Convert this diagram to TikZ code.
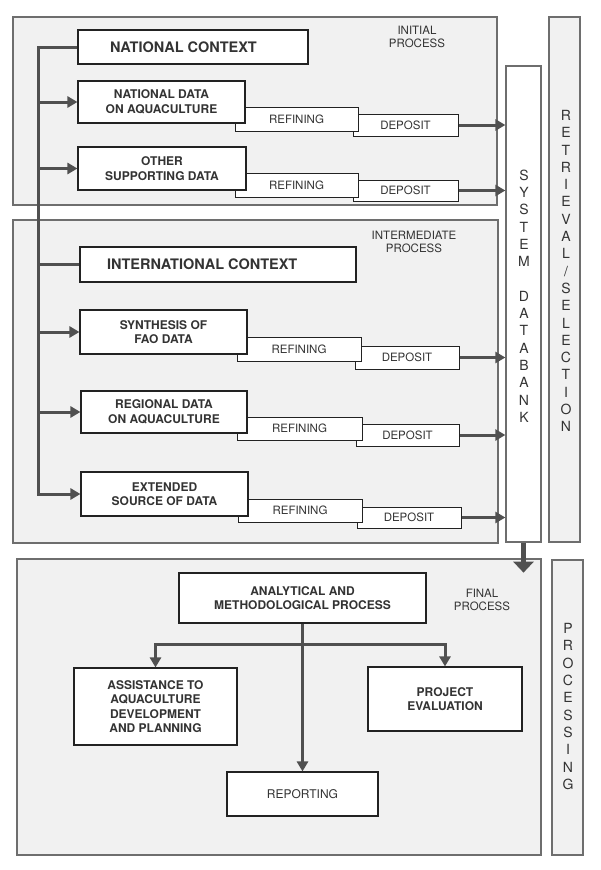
\documentclass[tikz,border=0pt]{standalone}
\usepackage{fontspec}
\setmainfont{TeX Gyre Heros}
\usetikzlibrary{arrows.meta,calc}
\definecolor{panelfill}{HTML}{F1F1F1}
\definecolor{panelline}{HTML}{6E6E6E}
\definecolor{boxline}{HTML}{222222}
\definecolor{conncol}{HTML}{505050}
\definecolor{txt}{HTML}{333333}
\begin{document}
\begin{tikzpicture}[x=1pt,y=-1pt,
  wh/.style 2 args={minimum width=#1pt, minimum height=#2pt},
  panel/.style={draw=panelline, fill=panelfill, line width=1.3pt, inner sep=0pt},
  box/.style={draw=boxline, fill=white, line width=1.1pt, inner sep=0pt, text=txt,
    font=\fontsize{12}{14.5}\selectfont\bfseries, align=center},
  ctx/.style={box, font=\fontsize{14.5}{16}\selectfont\bfseries},
  sub/.style={draw=boxline, fill=white, line width=1pt, inner sep=0pt, text=txt,
    font=\fontsize{11.5}{13}\selectfont},
  col/.style={draw=panelline, line width=1.3pt, inner sep=0pt},
  conn/.style={draw=conncol, line width=3pt},
  arr/.style={conn, -{Triangle[length=10pt,width=11pt]}},
  plabel/.style={text=txt, font=\fontsize{11.5}{13}\selectfont, align=center, inner sep=0pt},
  vlabel/.style={text=txt, font=\fontsize{14}{17.3}\selectfont, align=center, inner sep=0pt}
]
\useasboundingbox (0,0) rectangle (600,870);
\fill[white] (0,0) rectangle (600,870);

% panels and columns
\node[panel, wh={484}{188}] (initial) at (255,111) {};
\node[panel, wh={485}{323}] (inter) at (255.5,381.5) {};
\node[panel, wh={524}{296}] (final) at (279,707) {};
\node[col, fill=white, wh={35}{476}] (db) at (523.5,304) {};
\node[col, fill=panelfill, wh={31}{525}] (retr) at (564.5,279.5) {};
\node[col, fill=panelfill, wh={31}{295}] (proc) at (567.5,707.5) {};

% panel labels
\node[plabel] (lInit) at (417,37) {INITIAL\\PROCESS};
\node[plabel] (lInter) at (414,241.5) {INTERMEDIATE\\PROCESS};
\node[plabel] (lFinal) at (482,599.5) {FINAL\\PROCESS};

% vertical labels
\node[vlabel] (tDb) at (524,296) {S\\Y\\S\\T\\E\\M\\[17.3pt]D\\A\\T\\A\\B\\A\\N\\K};
\node[vlabel] (tRetr) at (566,271) {R\\E\\T\\R\\I\\E\\V\\A\\L\\/\\S\\E\\L\\E\\C\\T\\I\\O\\N};
\node[vlabel] (tProc) at (568,706.5) {P\\R\\O\\C\\E\\S\\S\\I\\N\\G};

% initial process
\node[ctx, wh={230}{34}] (natctx) at (193,47) {\makebox[230pt][l]{\hspace{32pt}NATIONAL CONTEXT}};

\node[sub, wh={105}{22}] (natdep) at (405.5,125) {DEPOSIT};
\node[sub, wh={123}{24}] (natref) at (296.5,119) {REFINING};
\node[box, wh={167}{42}] (natdata) at (161.5,102) {NATIONAL DATA\\ON AQUACULTURE};

\node[sub, wh={105}{21}] (othdep) at (405.5,190.5) {DEPOSIT};
\node[sub, wh={123}{24}] (othref) at (296.5,185) {REFINING};
\node[box, wh={168}{43}] (othdata) at (162,168.5) {OTHER\\SUPPORTING DATA};

% intermediate process
\node[ctx, wh={276}{35}] (intctx) at (218,264.5) {\makebox[276pt][l]{\hspace{27pt}INTERNATIONAL CONTEXT}};

\node[sub, wh={104}{23}] (syndep) at (407,357.5) {DEPOSIT};
\node[sub, wh={124}{24}] (synref) at (299,349) {REFINING};
\node[box, wh={167}{44}] (synth) at (163.5,332) {SYNTHESIS OF\\FAO DATA};

\node[sub, wh={103}{22}] (regdep) at (407.5,435) {DEPOSIT};
\node[sub, wh={125}{23}] (regref) at (299.5,428.5) {REFINING};
\node[box, wh={166}{42}] (regdata) at (164,412) {REGIONAL DATA\\ON AQUACULTURE};

\node[sub, wh={104}{21}] (extdep) at (409,517.5) {DEPOSIT};
\node[sub, wh={124}{23}] (extref) at (300,510.5) {REFINING};
\node[box, wh={167}{44}] (ext) at (164.5,494) {EXTENDED\\SOURCE OF DATA};

% final process
\node[box, wh={247}{50}] (ana) at (302.5,598) {ANALYTICAL AND\\METHODOLOGICAL PROCESS};
\node[box, wh={163}{77}] (assist) at (155.5,706.5) {ASSISTANCE TO\\AQUACULTURE\\DEVELOPMENT\\AND PLANNING};
\node[box, wh={154}{64}] (proj) at (445,699) {PROJECT\\EVALUATION};
\node[box, wh={151}{44}, font=\fontsize{12}{14.5}\selectfont] (rep) at (302.5,794) {REPORTING};

% left bus
\coordinate (busx) at (38,0);
\draw[arr] (natctx.west) -- (natctx.west -| busx) |- (ext.west);
\draw[arr] (natdata.west -| busx) -- (natdata.west);
\draw[arr] (othdata.west -| busx) -- (othdata.west);
\draw[conn] (intctx.west -| busx) -- (intctx.west);
\draw[arr] (synth.west -| busx) -- (synth.west);
\draw[arr] (regdata.west -| busx) -- (regdata.west);

% deposits to databank
\foreach \d in {natdep,othdep,syndep,regdep,extdep}
  \draw[arr] (\d.east) -- (\d.east -| db.west);

% databank to final process
\draw[draw=conncol, line width=4.5pt, -{Triangle[length=11pt,width=20pt]}] (db.south) -- ++(0,30);

% final connectors
\draw[arr] (ana.south) -- (rep.north);
\coordinate (split) at ($(ana.south)+(0,21)$);
\draw[arr] (split) -| (assist.north);
\draw[arr] (split) -| (proj.north);
\end{tikzpicture}
\end{document}
